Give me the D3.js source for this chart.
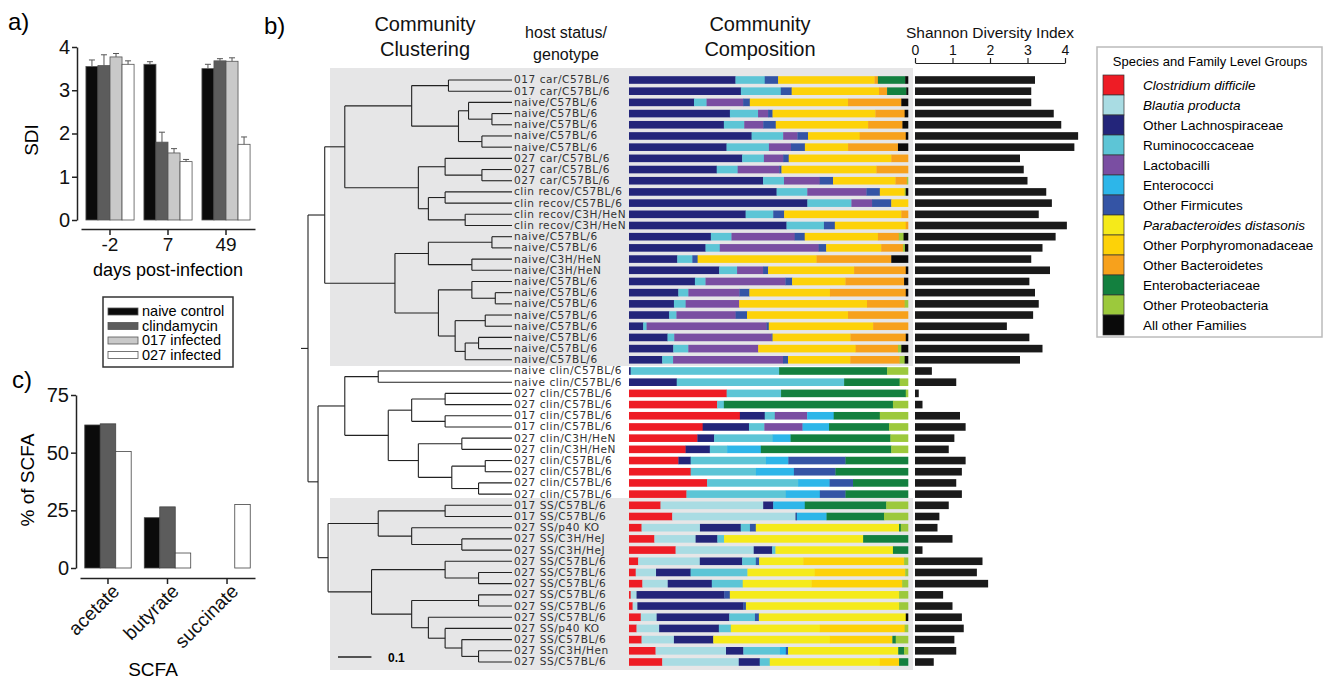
<!DOCTYPE html>
<html>
<head>
<meta charset="utf-8">
<script src="https://cdn.jsdelivr.net/npm/d3@7"></script>
<style>
  body { margin: 0; background: #fff; }
  svg { display: block; }
  .sans { font-family: "Liberation Sans", Arial, sans-serif; }
</style>
</head>
<body>
<div id="chart"></div>
<script>
// ---- panel a: Shannon diversity over time
const sdiDays = ["-2", "7", "49"];
const sdiSeries = ["naive control", "clindamycin", "017 infected", "027 infected"];
const sdiMeans = [[3.55, 3.57, 3.77, 3.6], [3.6, 1.8, 1.55, 1.35], [3.5, 3.68, 3.67, 1.75]];
const sdiErrors = [[0.15, 0.25, 0.08, 0.08], [0.06, 0.23, 0.1, 0.05], [0.1, 0.05, 0.08, 0.17]];
const seriesFill = ["#0b0b0b", "#5c5c5c", "#c9c9c9", "#ffffff"];

// ---- panel c: SCFA
const scfaTypes = ["acetate", "butyrate", "succinate"];
const scfaSeries = ["naive control", "clindamycin", "027 infected"];
const scfaValues = [[62, 62.5, 50.5], [21.8, 26.5, 6.5], [0, 0, 27.5]];
const scfaFill = ["#0b0b0b", "#5c5c5c", "#ffffff"];

// ---- panel b
const sampleLabels = [
  "017 car/C57BL/6", "017 car/C57BL/6", "naive/C57BL/6", "naive/C57BL/6", "naive/C57BL/6",
  "naive/C57BL/6", "naive/C57BL/6", "027 car/C57BL/6", "027 car/C57BL/6", "027 car/C57BL/6",
  "clin recov/C57BL/6", "clin recov/C57BL/6", "clin recov/C3H/HeN", "clin recov/C3H/HeN",
  "naive/C57BL/6", "naive/C57BL/6", "naive/C3H/HeN", "naive/C3H/HeN", "naive/C57BL/6",
  "naive/C57BL/6", "naive/C57BL/6", "naive/C57BL/6", "naive/C57BL/6", "naive/C57BL/6",
  "naive/C57BL/6", "naive/C57BL/6",
  "naive clin/C57BL/6", "naive clin/C57BL/6", "027 clin/C57BL/6", "027 clin/C57BL/6",
  "017 clin/C57BL/6", "017 clin/C57BL/6", "027 clin/C3H/HeN", "027 clin/C3H/HeN",
  "027 clin/C57BL/6", "027 clin/C57BL/6", "027 clin/C57BL/6", "027 clin/C57BL/6",
  "017 SS/C57BL/6", "017 SS/C57BL/6", "027 SS/p40 KO", "027 SS/C3H/HeJ", "027 SS/C3H/HeJ",
  "027 SS/C57BL/6", "027 SS/C57BL/6", "027 SS/C57BL/6", "027 SS/C57BL/6", "027 SS/C57BL/6",
  "027 SS/C57BL/6", "027 SS/p40 KO", "027 SS/C57BL/6", "027 SS/C3H/Hen", "027 SS/C57BL/6"
];

const groupNames = ["Clostridium difficile", "Blautia producta", "Other Lachnospiraceae",
  "Ruminococcaceae", "Lactobacilli", "Enterococci", "Other Firmicutes",
  "Parabacteroides distasonis", "Other Porphyromonadaceae", "Other Bacteroidetes",
  "Enterobacteriaceae", "Other Proteobacteria", "All other Families"];
const groupItalic = [true, true, false, false, false, false, false, true, false, false, false, false, false];
const groupColors = ["#ee1c25", "#a9dce3", "#23257a", "#5dc5d6", "#7a4ea2", "#2db6e9", "#3454a5",
  "#f5ea1a", "#fdd208", "#f7a11c", "#13803f", "#9cc93c", "#0a0a0a"];

// percent of each group, one row per sample, same order as groupNames
const composition = [
  [0,0,38.2,10.5,0,0,4.8,0,34.6,1.2,9.8,0,1.0],
  [0,0,40.1,14.3,0,0,3.9,0,31.3,2.9,6.9,0,0.6],
  [0,0,23.3,4.5,13.1,0,2.4,0,35.2,19.1,0,0,2.4],
  [0,0,36.2,10.1,3.6,0,1.6,0,36.9,10.5,0,0,1.2],
  [0,0,34.0,7.3,6.8,0,4.5,0,33.1,12.3,0,0,2.0],
  [0,0,43.9,11.3,5.1,0,3.8,0,18.5,16.5,0,0,0.8],
  [0,0,35.0,15.2,7.9,0,5.0,0,15.5,17.9,0,0,3.6],
  [0,0,40.6,7.8,6.9,0,2.0,0,36.8,6.0,0,0,0],
  [0,0,31.4,7.5,14.9,0,0.8,0,34.0,11.3,0,0,0],
  [0,0,48.1,7.5,12.8,0,4.8,0,22.4,4.1,0,0.4,0],
  [0,0,52.9,11.0,21.2,0,4.8,0,8.9,0,0,0.4,0.8],
  [0,0,64.0,15.8,7.4,0,6.9,0,6.0,0,0,0,0],
  [0,0,41.8,9.9,0,0,3.9,0,42.0,2.4,0,0,0],
  [0,0,56.4,13.4,0,0,3.9,0,25.4,0.8,0,0,0],
  [0,0,29.4,7.4,22.7,0,3.6,0,26.3,7.5,0,1.7,1.6],
  [0,0,27.4,5.1,35.4,0,2.7,0,19.7,7.8,0,0.7,1.1],
  [0,0,17.3,5.4,0,0,1.9,0,42.6,26.8,0,0,6.0],
  [0,0,32.3,6.4,9.3,0,1.8,0,30.8,18.5,0,0,0.8],
  [0,0,23.6,3.8,28.6,0,2.4,0,19.1,21.0,0,0,1.4],
  [0,0,17.7,3.6,18.3,0,3.6,0,28.9,27.2,0,0,0.8],
  [0,0,16.1,4.2,19.2,0,0,0,45.8,13.5,0,1.2,0],
  [0,0,14.4,2.6,21.2,0,4.1,0,36.2,21.5,0,0,0],
  [0,0,5.1,1.2,43.0,0,0.8,0,37.4,12.5,0,0,0],
  [0,0,13.8,2.4,34.8,0,0.4,0,27.9,19.8,0,0,0.8],
  [0,0,15.9,5.4,25.1,0,0,0,35.0,15.2,0,1.2,2.4],
  [0,0,11.9,3.9,39.4,0,1.8,0,22.3,17.7,0,1.8,1.2],
  [0,0,0.6,53.2,0,0,0,0,0,0,38.7,7.5,0],
  [0,0,17.1,60.0,0,0,0,0,0,0,19.9,3.0,0],
  [35.0,0,0,19.5,0,0,0,0,0,0,44.7,0.8,0],
  [31.6,0,0,2.4,0,0,0,0,0,0,60.6,5.4,0],
  [39.7,0,8.9,3.6,11.6,9.5,0,0,0,0,16.5,10.1,0],
  [26.4,0,16.6,5.5,13.7,9.5,0,0,0,0,21.5,6.8,0],
  [24.5,0,6.0,21.0,0,6.4,0,0,0,0,35.8,6.3,0],
  [20.3,0,8.7,6.2,0,12.1,0,0,0,0,46.8,6.0,0],
  [17.7,0,4.4,27.0,0,8.0,20.5,0,0,0,22.4,0,0],
  [22.1,0,0,23.4,0,13.6,14.9,0,0,0,26.0,0,0],
  [28.0,0,0,32.6,0,11.3,8.4,0,0,0,19.7,0,0],
  [20.6,0,0,35.6,0,12.2,9.2,0,0,0,22.4,0,0],
  [11.3,36.8,3.6,0,0,11.3,0,0,0,0,29.2,7.8,0],
  [15.5,44.2,0.4,0,0,10.7,0,0,0,0,20.6,8.6,0],
  [4.5,20.9,14.6,3.3,0,0,2.1,51.3,0,0,0.6,2.6,0],
  [9.1,14.8,7.8,2.4,0,0,0,49.9,0,0,16.1,0,0],
  [16.7,28.0,6.6,1.2,0,0,0,42.1,0,0,5.4,0,0],
  [3.3,22.1,15.2,4.9,0,0,1.2,15.8,36.2,0,0,1.4,0],
  [2.4,7.3,12.4,20.4,0,0,0,24.1,32.5,0,0,1.0,0],
  [4.8,9.1,15.8,11.1,0,0,0,24.7,32.5,0,0,2.1,0],
  [0.6,2.1,31.4,0,0,0,2.0,60.6,0,0,0,3.2,0],
  [1.3,1.7,37.9,0,0,0,1.0,54.9,0,0,0,3.2,0],
  [4.2,5.7,26.0,9.2,0,0,1.4,52.6,0,0,0,0,0.8],
  [2.7,8.1,21.4,4.3,0,0,0,31.9,30.4,0,0,1.2,0],
  [4.5,11.6,14.1,0,0,0,0,41.8,22.4,0,1.2,4.4,0],
  [9.5,25.2,6.2,13.1,0,2.1,0.8,39.4,0,0,2.1,1.4,0],
  [11.9,27.4,7.5,3.6,0,0,0,39.4,6.9,0,3.2,0,0]
];

const shannon = [3.2, 3.1, 3.1, 3.7, 3.9, 4.35, 4.25, 2.8, 2.9, 3.0, 3.5, 3.65, 3.3, 4.05,
  3.75, 3.4, 3.1, 3.6, 3.05, 3.2, 3.3, 3.15, 2.45, 3.05, 3.4, 2.8,
  0.45, 1.1, 0.1, 0.2, 1.2, 1.35, 1.05, 0.9, 1.35, 1.25, 1.1, 1.25,
  0.9, 0.65, 0.6, 1.0, 0.2, 1.8, 1.65, 1.95, 0.75, 1.0, 1.25, 1.3, 1.05, 1.1, 0.5];
const shannonTicks = [0, 1, 2, 3, 4];

// dendrogram: t(height, childA, childB), leaves are sample indices
function t(h, a, b) { return { h: h, kids: [a, b] }; }
const clusterTree = t(0.61,
  t(0.56,
    t(0.5,
      t(0.3, t(0.19, 0, 1), t(0.16, t(0.13, 2, t(0.06, 3, 4)), t(0.09, 5, 6))),
      t(0.28, t(0.2, 7, t(0.09, 8, 9)), t(0.25, t(0.2, 10, 11), t(0.14, 12, 13)))),
    t(0.35,
      t(0.25, t(0.06, 14, 15), t(0.12, 16, 17)),
      t(0.22, t(0.12, 18, t(0.05, 19, 20)), t(0.17, t(0.08, 21, 22), t(0.14, t(0.1, 23, 24), 25))))),
  t(0.58,
    t(0.5, t(0.4, 26, 27),
      t(0.37, t(0.3, t(0.2, 28, 29), t(0.2, 30, 31)),
        t(0.28, t(0.15, 32, 33), t(0.18, t(0.08, 34, 35), t(0.1, 36, 37))))),
    t(0.55, t(0.4, t(0.2, 38, 39), t(0.3, 40, t(0.15, 41, 42))),
      t(0.42, t(0.2, 43, t(0.1, 44, 45)),
        t(0.3, t(0.1, 46, 47), t(0.25, 48, t(0.2, 49, t(0.15, 50, t(0.1, 51, 52)))))))));

const width = 1324;
const height = 680;

const svg = d3.select("#chart").append("svg")
  .attr("width", width)
  .attr("height", height)
  .attr("class", "sans");

svg.append("rect").attr("width", width).attr("height", height).attr("fill", "#fff");

// ================= panel a =================
svg.append("text").attr("x", 8).attr("y", 30).attr("font-size", 24).text("a)");

const yA = d3.scaleLinear().domain([0, 4]).range([220, 47]);
const xA = d3.scaleBand().domain(sdiDays).range([81, 255]).paddingInner(0.17).paddingOuter(0.085);
const xAin = d3.scaleBand().domain(d3.range(sdiSeries.length)).range([0, xA.bandwidth()]);

const gA = svg.append("g");
gA.append("g")
  .attr("transform", "translate(77,0)")
  .call(d3.axisLeft(yA).tickValues([0, 1, 2, 3, 4]).tickFormat(d3.format("d"))
    .tickSize(5).tickSizeOuter(0).tickPadding(2))
  .call(g => g.selectAll("text").attr("font-size", 20).attr("fill", "#111"))
  .call(g => g.selectAll("path,line").attr("stroke", "#222").attr("stroke-width", 1.5));

gA.append("g")
  .attr("transform", "translate(0,229)")
  .call(d3.axisBottom(xA).tickSize(6).tickSizeOuter(0).tickPadding(3))
  .call(g => g.selectAll("text").attr("font-size", 19).attr("fill", "#111"))
  .call(g => g.selectAll("path,line").attr("stroke", "#222").attr("stroke-width", 1.5));

sdiDays.forEach((day, di) => {
  sdiMeans[di].forEach((v, si) => {
    const x0 = xA(day) + xAin(si);
    const bw = xAin.bandwidth();
    gA.append("rect")
      .attr("x", x0).attr("y", yA(v))
      .attr("width", bw).attr("height", yA(0) - yA(v))
      .attr("fill", seriesFill[si]).attr("stroke", "#555").attr("stroke-width", 0.8);
    const e = sdiErrors[di][si];
    const cx = x0 + bw / 2;
    gA.append("line").attr("x1", cx).attr("x2", cx).attr("y1", yA(v)).attr("y2", yA(v + e))
      .attr("stroke", "#555").attr("stroke-width", 1);
    gA.append("line").attr("x1", cx - 3).attr("x2", cx + 3).attr("y1", yA(v + e)).attr("y2", yA(v + e))
      .attr("stroke", "#555").attr("stroke-width", 1);
  });
});

svg.append("text").attr("transform", "translate(38,140) rotate(-90)")
  .attr("text-anchor", "middle").attr("font-size", 19).text("SDI");
svg.append("text").attr("x", 168).attr("y", 276)
  .attr("text-anchor", "middle").attr("font-size", 18).text("days post-infection");

// legend a
const legA = svg.append("g");
legA.append("rect").attr("x", 103).attr("y", 297).attr("width", 130).attr("height", 70)
  .attr("fill", "#fff").attr("stroke", "#333").attr("stroke-width", 1.5);
sdiSeries.forEach((s, i) => {
  legA.append("rect").attr("x", 108).attr("y", 308 + i * 14.5).attr("width", 30).attr("height", 7)
    .attr("fill", seriesFill[i]).attr("stroke", "#555").attr("stroke-width", 0.8);
  legA.append("text").attr("x", 142).attr("y", 316 + i * 14.5).attr("font-size", 14.5).text(s);
});

// ================= panel c =================
svg.append("text").attr("x", 12).attr("y", 388).attr("font-size", 24).text("c)");

const yC = d3.scaleLinear().domain([0, 75]).range([568, 395]);
const xC = d3.scaleBand().domain(scfaTypes).range([80, 255]).paddingInner(0.22).paddingOuter(0.08);
const xCin = d3.scaleBand().domain(d3.range(scfaSeries.length)).range([0, xC.bandwidth()]);

const gC = svg.append("g");
gC.append("g")
  .attr("transform", "translate(76,0)")
  .call(d3.axisLeft(yC).tickValues([0, 25, 50, 75]).tickSize(5).tickSizeOuter(0).tickPadding(2))
  .call(g => g.selectAll("text").attr("font-size", 20).attr("fill", "#111"))
  .call(g => g.selectAll("path,line").attr("stroke", "#222").attr("stroke-width", 1.5));

gC.append("g")
  .attr("transform", "translate(0,578)")
  .call(d3.axisBottom(xC).tickSize(6).tickSizeOuter(0))
  .call(g => g.selectAll("path,line").attr("stroke", "#222").attr("stroke-width", 1.5))
  .call(g => g.selectAll("text")
    .attr("font-size", 19).attr("fill", "#111")
    .attr("text-anchor", "end")
    .attr("transform", "translate(-2,0) rotate(-45)")
    .attr("dy", "0.6em"));

scfaTypes.forEach((type, ti) => {
  scfaValues[ti].forEach((v, si) => {
    gC.append("rect")
      .attr("x", xC(type) + xCin(si)).attr("y", yC(v))
      .attr("width", xCin.bandwidth()).attr("height", Math.max(0, yC(0) - yC(v)))
      .attr("fill", scfaFill[si]).attr("stroke", "#444").attr("stroke-width", 0.8);
  });
});

svg.append("text").attr("transform", "translate(34,480) rotate(-90)")
  .attr("text-anchor", "middle").attr("font-size", 19).text("% of SCFA");
svg.append("text").attr("x", 153).attr("y", 676)
  .attr("text-anchor", "middle").attr("font-size", 19).text("SCFA");

// ================= panel b =================
svg.append("text").attr("x", 264).attr("y", 34).attr("font-size", 24).text("b)");

const yRow = d3.scalePoint().domain(d3.range(sampleLabels.length)).range([80, 662]);
const barH = 7.6;

// grey backgrounds
svg.append("rect").attr("x", 330).attr("y", 68).attr("width", 583).attr("height", 298).attr("fill", "#e6e6e7");
svg.append("rect").attr("x", 330).attr("y", 498).attr("width", 583).attr("height", 172).attr("fill", "#e6e6e7");

// headings
const head = svg.append("g").attr("fill", "#111");
head.append("text").attr("x", 425).attr("y", 31).attr("text-anchor", "middle").attr("font-size", 20).text("Community");
head.append("text").attr("x", 425).attr("y", 56).attr("text-anchor", "middle").attr("font-size", 20).text("Clustering");
head.append("text").attr("x", 566).attr("y", 38).attr("text-anchor", "middle").attr("font-size", 16).text("host status/");
head.append("text").attr("x", 566).attr("y", 60).attr("text-anchor", "middle").attr("font-size", 16).text("genotype");
head.append("text").attr("x", 760).attr("y", 31).attr("text-anchor", "middle").attr("font-size", 20).text("Community");
head.append("text").attr("x", 760).attr("y", 56).attr("text-anchor", "middle").attr("font-size", 20).text("Composition");
head.append("text").attr("x", 990).attr("y", 38).attr("text-anchor", "middle").attr("font-size", 15.5).text("Shannon Diversity Index");

// dendrogram
const root = d3.hierarchy(clusterTree, d => (typeof d === "object" ? d.kids : null));
const xTree = d3.scaleLinear().domain([0, 0.61]).range([512, 308]);
root.eachAfter(n => {
  if (n.children) {
    n.px = xTree(n.data.h);
    n.py = (n.children[0].py + n.children[1].py) / 2;
  } else {
    n.px = xTree(0);
    n.py = yRow(n.data);
  }
});
const dend = svg.append("g").attr("stroke", "#222").attr("stroke-width", 1.1).attr("fill", "none");
root.each(n => {
  if (!n.children) return;
  dend.append("line").attr("x1", n.px).attr("x2", n.px)
    .attr("y1", n.children[0].py).attr("y2", n.children[1].py);
  n.children.forEach(c => {
    dend.append("line").attr("x1", n.px).attr("x2", c.px).attr("y1", c.py).attr("y2", c.py);
  });
});
dend.append("line").attr("x1", root.px - 7).attr("x2", root.px).attr("y1", root.py).attr("y2", root.py);

// scale bar (0.1 units of the tree scale)
const barLen = xTree(0) - xTree(0.1);
dend.append("line").attr("x1", 338).attr("x2", 338 + barLen)
  .attr("y1", 657).attr("y2", 657).attr("stroke-width", 1.5);
svg.append("text").attr("x", 388).attr("y", 662).attr("font-size", 12).attr("font-weight", "bold").text("0.1");

// sample labels
svg.append("g").selectAll("text").data(sampleLabels).join("text")
  .attr("transform", (d, i) => `translate(514,${yRow(i)}) scale(1.1,1)`)
  .attr("dy", "0.36em")
  .attr("font-family", "'DejaVu Sans', sans-serif")
  .attr("font-size", 9.6)
  .attr("letter-spacing", 0.5)
  .attr("fill", "#333")
  .text(d => d);

// composition stacked bars
const xComp = d3.scaleLinear().domain([0, 1]).range([629, 908]);
const compRows = composition.map((row, i) => {
  const total = d3.sum(row);
  let acc = 0;
  return row.map((v, g) => {
    const seg = { row: i, g: g, x0: acc / total, x1: (acc + v) / total };
    acc += v;
    return seg;
  }).filter(s => s.x1 > s.x0);
});
svg.append("g").selectAll("rect").data(compRows.flat()).join("rect")
  .attr("x", d => xComp(d.x0))
  .attr("width", d => xComp(d.x1) - xComp(d.x0) + 0.3)
  .attr("y", d => yRow(d.row) - barH / 2)
  .attr("height", barH)
  .attr("fill", d => groupColors[d.g]);

// shannon diversity bars
const xDiv = d3.scaleLinear().domain([0, 4]).range([915, 1065]);
svg.append("g")
  .attr("transform", "translate(0,63)")
  .call(d3.axisTop(xDiv).tickValues(shannonTicks).tickFormat(d3.format("d"))
    .tickSize(5).tickSizeOuter(0).tickPadding(3))
  .call(g => g.selectAll("text").attr("font-size", 14).attr("fill", "#111"))
  .call(g => g.selectAll("path,line").attr("stroke", "#222").attr("stroke-width", 1.2));

svg.append("g").selectAll("rect").data(shannon).join("rect")
  .attr("x", xDiv(0))
  .attr("y", (d, i) => yRow(i) - barH / 2)
  .attr("width", d => xDiv(d) - xDiv(0))
  .attr("height", barH)
  .attr("fill", "#1a1a1a");

// legend b
const legB = svg.append("g");
legB.append("rect").attr("x", 1097).attr("y", 47).attr("width", 225).attr("height", 290)
  .attr("fill", "#fff").attr("stroke", "#bbb").attr("stroke-width", 1.5);
legB.append("text").attr("x", 1210).attr("y", 66).attr("text-anchor", "middle").attr("font-size", 13)
  .text("Species and Family Level Groups");
groupNames.forEach((name, i) => {
  legB.append("rect").attr("x", 1103).attr("y", 75 + i * 20).attr("width", 21).attr("height", 20)
    .attr("fill", groupColors[i]).attr("stroke", "#333").attr("stroke-width", 0.7);
  legB.append("text").attr("x", 1143).attr("y", 90 + i * 20).attr("font-size", 13.5)
    .attr("font-style", groupItalic[i] ? "italic" : "normal")
    .text(name);
});
</script>
</body>
</html>
